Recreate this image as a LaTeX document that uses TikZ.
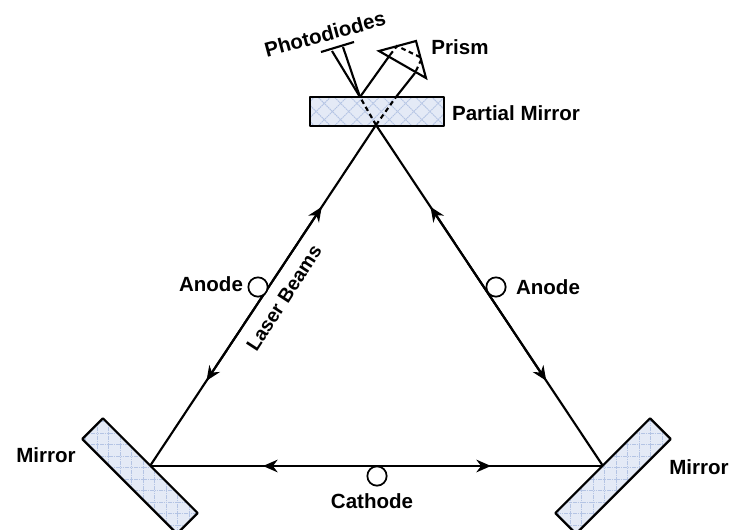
\documentclass[tikz,border=0pt]{standalone}
\usepackage{fontspec}
\setmainfont{Liberation Sans}
\usetikzlibrary{arrows.meta,calc}
\definecolor{mirrorfill}{HTML}{E4EAF6}
\definecolor{mirrorhatch}{HTML}{B4C4E4}
\tikzset{
	labeltext/.style={font=\fontsize{15.4}{18}\selectfont\bfseries, inner sep=0pt},
	beam/.style={line width=1.6pt, black},
	beamtip/.style={beam, -{Stealth[length=11pt,width=9.5pt]}},
	beamdash/.style={beam, dash pattern=on 3.5pt off 2.6pt},
	ringnode/.style={circle, draw=black, line width=1.3pt, fill=white, inner sep=0pt, minimum size=14.5pt},
	hatchline/.style={draw=mirrorhatch, line width=0.75pt, dash pattern=on 1.2pt off 0.5pt},
	mirrorbox/.style={rectangle, fill=mirrorfill, inner sep=0pt, minimum width=100pt, minimum height=21.5pt},
	mirroredge/.style={draw=black, line width=1.7pt, line join=round}
}
\newcommand{\mirrorhatchlines}[2]{%
	\begin{scope}
		\clip (#1.north west) -- (#1.north east) -- (#1.south east) -- (#1.south west) -- cycle;
		\begin{scope}[shift={(#1.center)}, rotate=#2]
			\foreach \k in {-14,...,14} {
				\draw[hatchline] (\k*11.5+3,-160) -- (\k*11.5+3,160);
				\draw[hatchline] (-160,\k*11.5+3) -- (160,\k*11.5+3);
			}
		\end{scope}
	\end{scope}
	\draw[mirroredge] (#1.north west) -- (#1.north east) -- (#1.south east) -- (#1.south west) -- cycle;
}
\begin{document}
\begin{tikzpicture}[
	x=0.75pt, y=-0.75pt,
	>=Stealth
	]

	\useasboundingbox (0,0) rectangle (729,529);

	\path
	(376,125) coordinate (Top)
	(150,466) coordinate (Left)
	(603,466) coordinate (Right)
	(360,97) coordinate (Split)
	(396,97) coordinate (Back)
	(390,55) coordinate (PrismIn)
	(397,46) coordinate (PrismA)
	(422,58) coordinate (PrismB)
	(415,73) coordinate (PrismOut)
	(332,51) coordinate (DiodeA)
	(343,47) coordinate (DiodeB)
	(321,52) coordinate (BarA)
	(354,42) coordinate (BarB)
	(379,51) coordinate (TipA)
	(416,41) coordinate (TipB)
	(426,78) coordinate (TipC)
	($(Top)!0.5!(Left)$) coordinate (MidL)
	($(Top)!0.24!(Left)$) coordinate (ArrLU)
	($(Top)!0.75!(Left)$) coordinate (ArrLD)
	($(Top)!0.5!(Right)$) coordinate (MidR)
	($(Top)!0.24!(Right)$) coordinate (ArrRU)
	($(Top)!0.75!(Right)$) coordinate (ArrRD)
	(377,466) coordinate (MidB)
	(263,466) coordinate (ArrBL)
	(491,466) coordinate (ArrBR)
	;

	% mirrors
	\node[mirrorbox] (PartialMirror) at (377,111.5) {};
	\node[mirrorbox, rotate=-45] (MirrorL) at (140,476) {};
	\node[mirrorbox, rotate=45] (MirrorR) at (613,476) {};
	\mirrorhatchlines{PartialMirror}{45}
	\mirrorhatchlines{MirrorL}{0}
	\mirrorhatchlines{MirrorR}{0}

	% triangle sides
	\draw[beam] (Top) -- (Left);
	\draw[beam] (Top) -- (Right);
	\draw[beam] (Left) -- (Right);
	\draw[beamtip] (MidL) -- (ArrLU);
	\draw[beamtip] (MidL) -- (ArrLD);
	\draw[beamtip] (MidR) -- (ArrRU);
	\draw[beamtip] (MidR) -- (ArrRD);
	\draw[beamtip] (MidB) -- (ArrBL);
	\draw[beamtip] (MidB) -- (ArrBR);

	% beams through the top mirror
	\draw[beamdash] (Top) -- (Split);
	\draw[beamdash] (Top) -- (Back);
	\draw[beam] (Split) -- (DiodeA);
	\draw[beam] (Split) -- (DiodeB);
	\draw[beam] (BarA) -- (BarB);
	\draw[beam] (Split) -- (PrismIn);
	\draw[beam] (Back) -- (PrismOut);
	\draw[beam, line join=miter] (TipB) -- (TipA) -- (TipC) -- cycle;
	\draw[beamdash] (PrismIn) -- (PrismA) -- (PrismB) -- (PrismOut);

	% electrodes
	\node[ringnode] (AnodeL) at (258,287) {};
	\node[ringnode] (AnodeR) at (496,287) {};
	\node[ringnode] (Cathode) at (377,476) {};

	\node[labeltext, rotate=15] (PhotoLabel) at (325,34) {Photodiodes};
	\node[labeltext] (PrismLabel) at (460,47) {Prism};
	\node[labeltext] (PartialLabel) at (516,113) {Partial Mirror};
	\node[labeltext] (AnodeLLabel) at (211,284) {Anode};
	\node[labeltext] (AnodeRLabel) at (548,287) {Anode};
	\node[labeltext, rotate=57, font=\fontsize{14.6}{18}\selectfont\bfseries] (BeamLabel) at (284,298) {Laser Beams};
	\node[labeltext] (MirrorLLabel) at (46,455) {Mirror};
	\node[labeltext] (MirrorRLabel) at (699,467) {Mirror};
	\node[labeltext] (CathodeLabel) at (372,501) {Cathode};

\end{tikzpicture}
\end{document}
